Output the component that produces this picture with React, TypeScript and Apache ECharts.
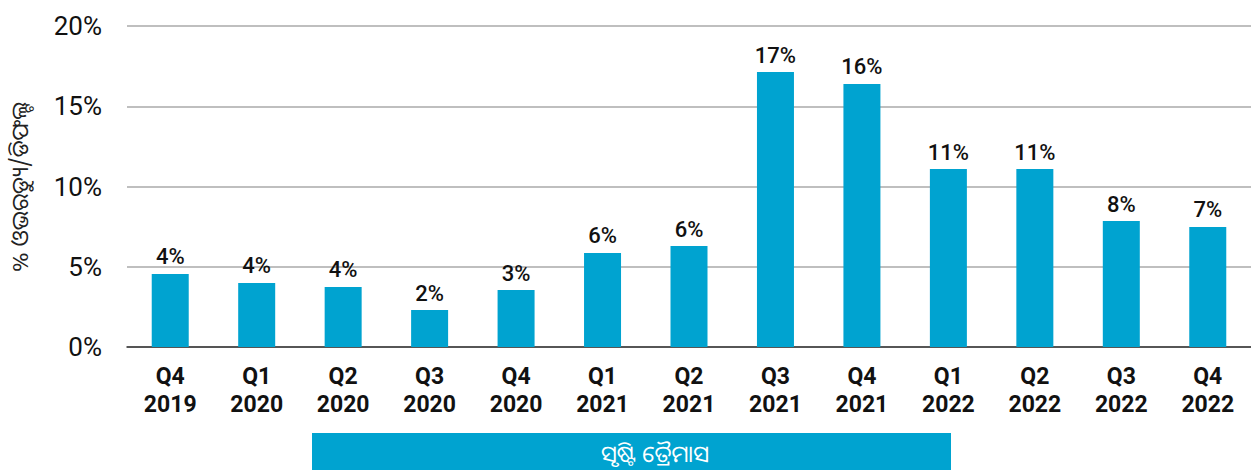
import React, { useEffect, useRef } from "react";
import * as echarts from "echarts";

const quarters = ["Q4\n2019", "Q1\n2020", "Q2\n2020", "Q3\n2020", "Q4\n2020", "Q1\n2021", "Q2\n2021", "Q3\n2021", "Q4\n2021", "Q1\n2022", "Q2\n2022", "Q3\n2022", "Q4\n2022"];
const values = [4.55, 3.99, 3.74, 2.3, 3.55, 5.86, 6.29, 17.13, 16.39, 11.09, 11.09, 7.85, 7.48];
const valueLabels = ["4%", "4%", "4%", "2%", "3%", "6%", "6%", "17%", "16%", "11%", "11%", "8%", "7%"];
const yTitle = "% ଓଭରଡ୍ୟୁ/ଡିଫଲ୍ଟ";
const xTitle = "ସୃଷ୍ଟି ତ୍ରୈମାସ";

export default function App() {
  const ref = useRef<HTMLDivElement>(null);
  useEffect(() => {
    document.body.style.margin = "0";
    const chart = echarts.init(ref.current!, null, { renderer: "svg" });
    chart.setOption({
      animation: false,
      grid: { left: 127, top: 26, width: 1126, bottom: 123, containLabel: false },
      xAxis: {
        type: "category",
        data: quarters,
        axisLine: { lineStyle: { color: "#333", width: 1.5 } },
        axisTick: { show: false },
        axisLabel: {
          color: "#111",
          fontFamily: "Roboto",
          fontWeight: "bold",
          fontSize: 23,
          lineHeight: 28,
          margin: 15,
        },
      },
      yAxis: {
        type: "value",
        min: 0,
        max: 20,
        interval: 5,
        axisLabel: {
          formatter: "{value}%",
          color: "#111",
          fontFamily: "Roboto",
          fontSize: 26,
          margin: 25,
        },
        splitLine: { lineStyle: { color: "#aaa", width: 1.5 } },
        axisLine: { show: false },
        axisTick: { show: false },
      },
      series: [
        {
          type: "bar",
          data: values,
          barWidth: 37,
          itemStyle: { color: "#00A3D0" },
          label: {
            show: true,
            position: "top",
            distance: 6,
            color: "#111",
            fontFamily: "Roboto",
            fontWeight: 500,
            fontSize: 22,
            formatter: (p: any) => valueLabels[p.dataIndex],
          },
        },
      ],
      graphic: [
        {
          type: "text",
          x: 19,
          y: 187,
          rotation: Math.PI / 2,
          style: {
            text: yTitle,
            font: '23px "Noto Sans Oriya", "Noto Sans", sans-serif',
            fill: "#222",
            align: "center",
            verticalAlign: "middle",
          },
        },
        {
          type: "rect",
          shape: { x: 312, y: 433, width: 639, height: 40 },
          style: { fill: "#00A3D0" },
        },
        {
          type: "text",
          x: 655,
          y: 453,
          style: {
            text: xTitle,
            font: '23px "Noto Sans Oriya", "Noto Sans", sans-serif',
            fill: "#fff",
            align: "center",
            verticalAlign: "middle",
          },
        },
      ],
    });
    return () => chart.dispose();
  }, []);
  return <div ref={ref} style={{ width: 1251, height: 470 }} />;
}
